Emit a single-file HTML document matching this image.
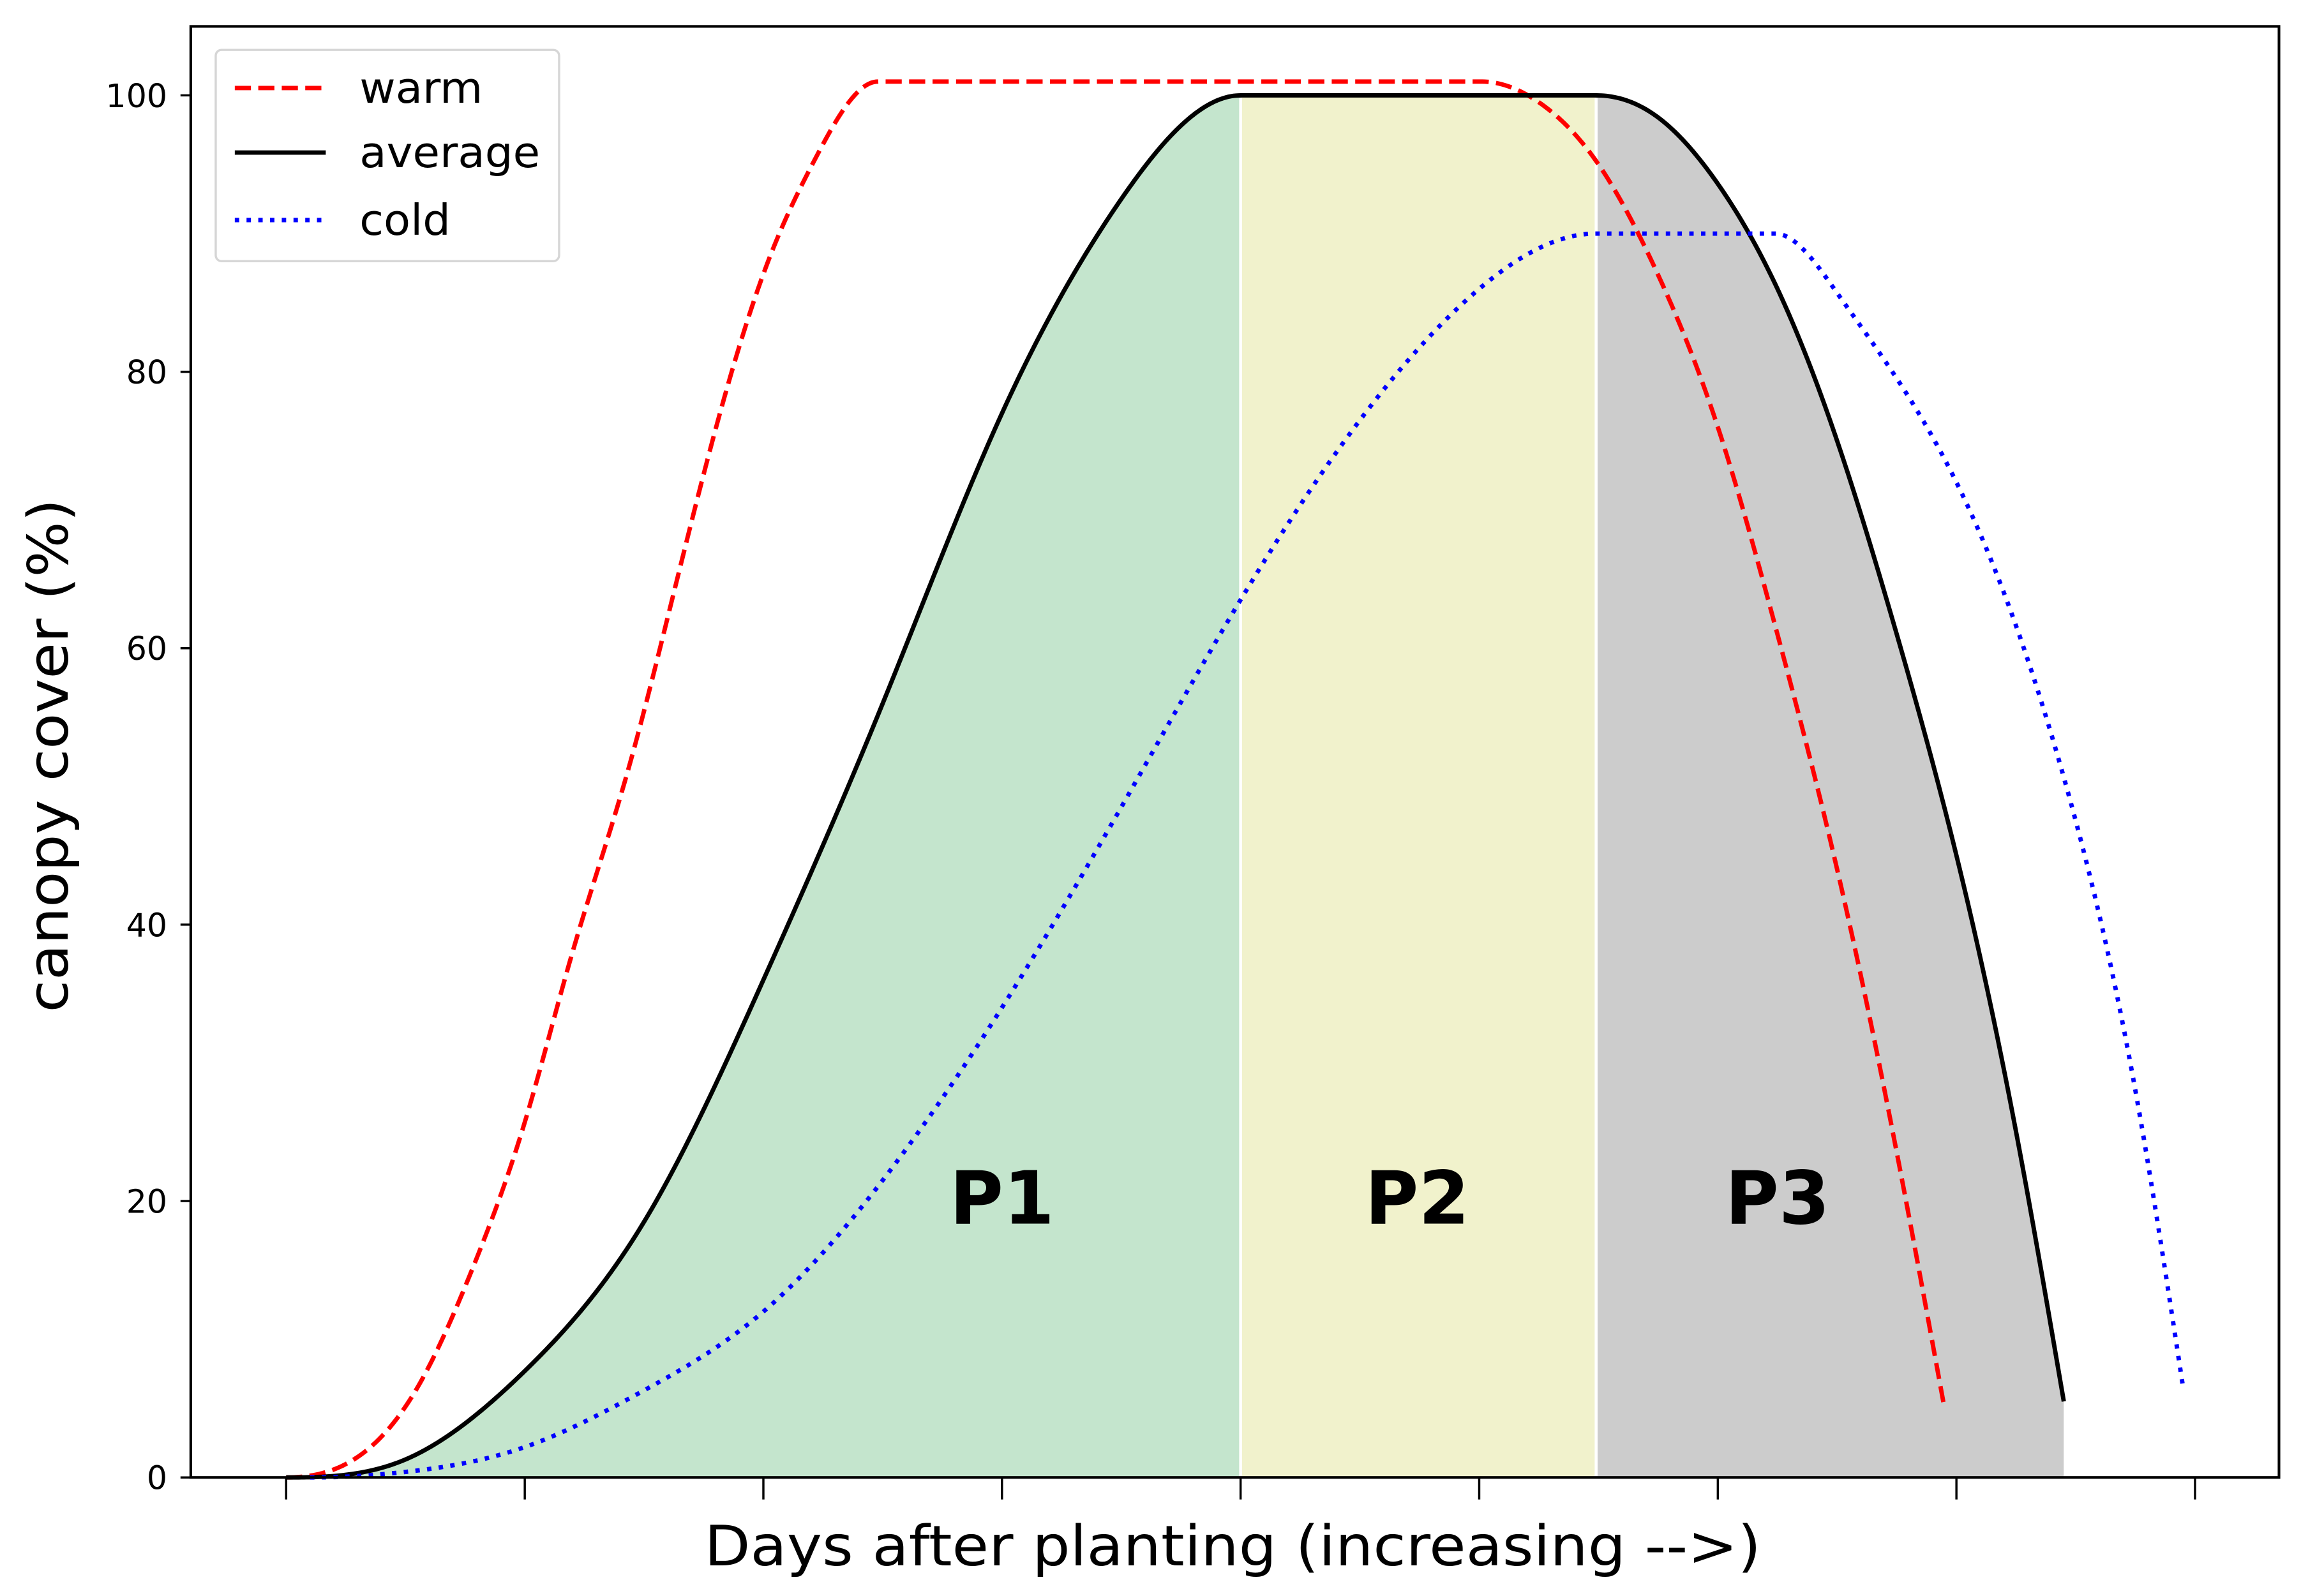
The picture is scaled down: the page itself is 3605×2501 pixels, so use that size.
<!DOCTYPE html>
<html><head><meta charset="utf-8"><style>
html,body{margin:0;padding:0;background:#fff;}
svg{display:block;}
text{font-family:"DejaVu Sans","Liberation Sans",sans-serif;}
</style></head><body>
<svg id="chart" width="3605" height="2501" viewBox="0 0 1568 1087.8" preserveAspectRatio="none" xmlns="http://www.w3.org/2000/svg">
<g id="shades"></g>
<g id="lines"></g>
<g id="axes"></g>
</svg>
<script>
const xTicks=[0,1,2,3,4,5,6,7,8];
const yTicks=[0,20,40,60,80,100];
const avgX=[0,0.5,1,1.5,2,2.5,3,3.5,4,5.49,5.75,6,6.25,6.5,6.75,7,7.25,7.45];
const avgY=[0,1.3,7.7,18.5,36,56,77,92.5,100,100,98.4,93.6,86,75,61,45,25,5.5];
const warmX=[0,0.34,0.55,0.79,1,1.2,1.43,1.61,1.81,2.02,2.22,2.48,5.01,5.25,5.5,5.75,6,6.25,6.5,6.75,6.95];
const warmY=[0,2,6.5,15.5,25.7,38,51,63,76.5,88,95.5,101,101,99.5,95,87,76,61,44,23.5,5];
const coldX=[0.1,0.5,1,1.5,2,2.5,3,3.5,4,4.5,5,5.49,6.24,6.5,7,7.5,7.75,7.95];
const coldY=[0,0.4,2.2,6.3,12,21.5,34,48.5,63.5,76.5,86,90,90,85.7,72,47.5,28,6.5];
const periods=[{l:'P1',a:0,b:4,m:3,c:'#c4e5cd'},{l:'P2',a:4,b:5.49,m:4.74,c:'#f1f2cc'},{l:'P3',a:5.49,b:7.45,m:6.25,c:'#cccccc'}];
const NS='http://www.w3.org/2000/svg';
const X=v=>195+v*162.6, Y=v=>1007-v*9.42;
function mk(t,at,p){const e=document.createElementNS(NS,t);for(const k in at)e.setAttribute(k,at[k]);(p||document.getElementById('axes')).appendChild(e);return e;}
// cubic spline with optional clamped end slopes (null = natural)
function spline(xs,ys,s0,s1){const n=xs.length,h=[],A=[],B=[],C=[],D=[];
 for(let i=0;i<n-1;i++)h.push(xs[i+1]-xs[i]);
 for(let i=0;i<n;i++){
  if(i===0){if(s0===null){A[i]=0;B[i]=1;C[i]=0;D[i]=0;}else{A[i]=0;B[i]=2*h[0];C[i]=h[0];D[i]=6*((ys[1]-ys[0])/h[0]-s0);}}
  else if(i===n-1){if(s1===null){A[i]=0;B[i]=1;C[i]=0;D[i]=0;}else{A[i]=h[n-2];B[i]=2*h[n-2];C[i]=0;D[i]=6*(s1-(ys[n-1]-ys[n-2])/h[n-2]);}}
  else{A[i]=h[i-1];B[i]=2*(h[i-1]+h[i]);C[i]=h[i];D[i]=6*((ys[i+1]-ys[i])/h[i]-(ys[i]-ys[i-1])/h[i-1]);}}
 for(let i=1;i<n;i++){const w=A[i]/B[i-1];B[i]-=w*C[i-1];D[i]-=w*D[i-1];}
 const M=[];M[n-1]=D[n-1]/B[n-1];for(let i=n-2;i>=0;i--)M[i]=(D[i]-C[i]*M[i+1])/B[i];
 return x=>{let i=0;while(i<n-2&&x>xs[i+1])i++;const a=xs[i+1]-x,b=x-xs[i],H=h[i];
  return M[i]*a*a*a/(6*H)+M[i+1]*b*b*b/(6*H)+(ys[i]/H-M[i]*H/6)*a+(ys[i+1]/H-M[i+1]*H/6)*b;};}
function seriesFn(xs,ys){let p=0;while(p<ys.length-1&&ys[p]!==ys[p+1])p++;
 const r=spline(xs.slice(0,p+1),ys.slice(0,p+1),0,0),d=spline(xs.slice(p+1),ys.slice(p+1),0,null);
 return x=>x<=xs[p]?r(x):(x<=xs[p+1]?ys[p]:d(x));}
function curve(xs,ys){const f=seriesFn(xs,ys),a=xs[0],b=xs[xs.length-1],N=700;let d='';
 for(let k=0;k<=N;k++){const x=a+(b-a)*k/N;d+=(k?' L':'M')+X(x).toFixed(2)+','+Y(Math.max(0,f(x))).toFixed(2);}return d;}
const sh=document.getElementById('shades'),ln=document.getElementById('lines');
const avgF=seriesFn(avgX,avgY);
const defs=mk('defs',{},sh);
const cp=mk('clipPath',{id:'under'},defs);
const AD=curve(avgX,avgY);
mk('path',{d:AD+' L'+X(7.45)+','+Y(0)+' L'+X(0)+','+Y(0)+' Z'},cp);
periods.forEach(p=>{
 const r=mk('rect',{x:X(p.a),y:Y(102),width:X(p.b)-X(p.a),height:Y(0)-Y(102),fill:p.c,'clip-path':'url(#under)'},sh);
 
 
});
[4,5.49].forEach(v=>{const s=mk('line',{x1:X(v),x2:X(v),y1:Y(0),y2:Y(avgF(v))+2,stroke:'#fff','stroke-width':2},sh);
 
 });
periods.forEach(p=>{const t=mk('text',{x:X(p.m),y:834,'font-size':50,'font-weight':'bold','text-anchor':'middle'},sh);t.textContent=p.l;
 
 });
const lw=mk('path',{d:curve(warmX,warmY),fill:'none',stroke:'#ff0000','stroke-width':3,'stroke-dasharray':'11,5'},ln);


const la=mk('path',{d:AD,fill:'none',stroke:'#000','stroke-width':3},ln);


const lc=mk('path',{d:curve(coldX,coldY),fill:'none',stroke:'#0000ff','stroke-width':3,'stroke-dasharray':'3,5'},ln);


const fr=mk('rect',{x:130,y:18,width:1423,height:989,fill:'none',stroke:'#000','stroke-width':1.8});


xTicks.forEach(v=>{const t=mk('line',{x1:X(v),x2:X(v),y1:1007,y2:1022,stroke:'#000','stroke-width':1.5});
 
 });
yTicks.forEach(v=>{const t=mk('line',{x1:123,x2:130,y1:Y(v),y2:Y(v),stroke:'#000','stroke-width':1.5});
 
 
 const l=mk('text',{x:114,y:Y(v)+8,'font-size':22,'text-anchor':'end'});l.textContent=v;
 
 });
const xt=mk('text',{x:480,y:1067,'font-size':38,textLength:720,lengthAdjust:'spacingAndGlyphs'});xt.textContent='Days after planting (increasing -->)';


const yt=mk('text',{x:0,y:0,'font-size':38,textLength:350,lengthAdjust:'spacingAndGlyphs',transform:'translate(46,690) rotate(-90)'});yt.textContent='canopy cover (%)';


const lg=mk('g',{});


mk('rect',{x:147,y:34,width:234,height:144,rx:4,fill:'#fff','fill-opacity':0.9,stroke:'#d6d6d6','stroke-width':1.5},lg);
const leg=[['warm','#ff0000','11,5',60,84],['average','#000','',104,123],['cold','#0000ff','3,5',150,62]];
leg.forEach(e=>{const s=mk('line',{x1:160,x2:222,y1:e[3],y2:e[3],stroke:e[1],'stroke-width':3,'stroke-dasharray':e[2]||'none'},lg);
 
 
 const t=mk('text',{x:245,y:e[3]+10,'font-size':29,textLength:e[4],lengthAdjust:'spacingAndGlyphs'},lg);t.textContent=e[0];
 
 });
</script>
</body></html>
